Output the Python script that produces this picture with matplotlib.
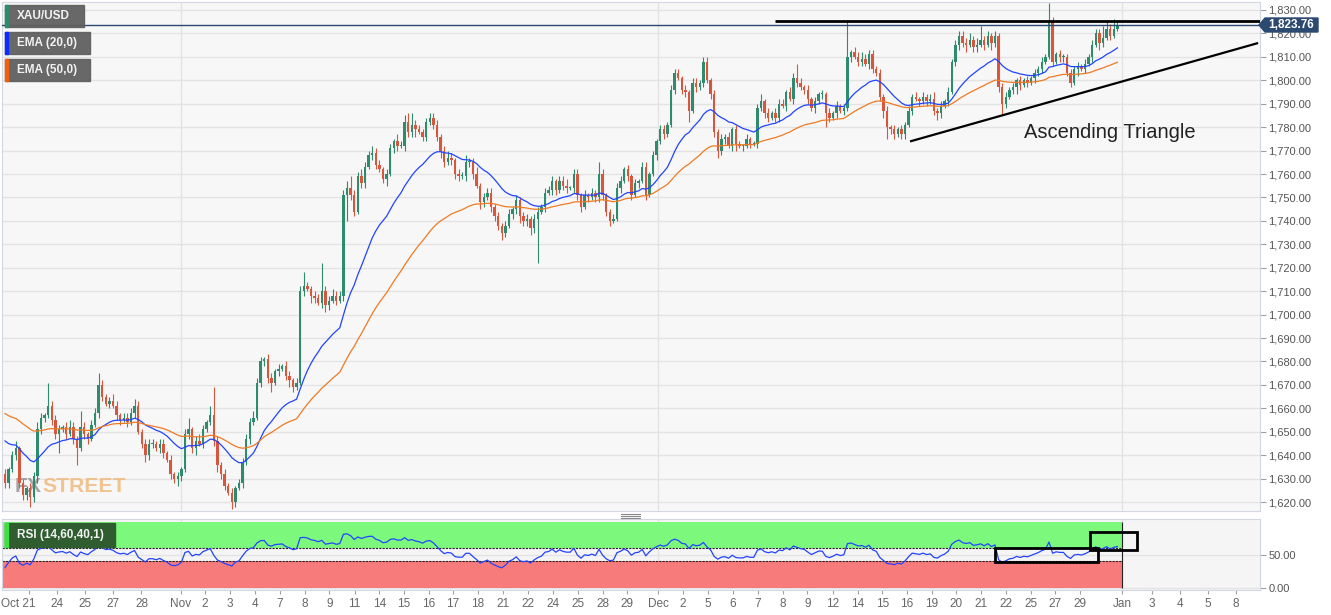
import numpy as np
import matplotlib
matplotlib.use('Agg')
import matplotlib.pyplot as plt
from matplotlib.patches import Rectangle, Polygon
from matplotlib.lines import Line2D
from matplotlib.transforms import ScaledTranslation

plt.rcParams['font.family'] = ['Liberation Sans', 'DejaVu Sans']

# XAU/USD 4h closes, Oct 21 -> Dec 30
closes = [
    1628, 1634, 1640, 1643, 1628, 1623, 1626, 1622, 1631, 1651,
    1656, 1657, 1661, 1655, 1649, 1651, 1652, 1649, 1652, 1647,
    1643, 1652, 1649, 1647, 1653, 1658, 1670, 1665, 1662, 1663,
    1661, 1657, 1655, 1656, 1654, 1658, 1661, 1650, 1645, 1640,
    1645, 1645, 1643, 1645, 1641, 1638, 1632, 1630, 1631, 1634,
    1649, 1651, 1643, 1646, 1645, 1651, 1654, 1657, 1646, 1636,
    1632, 1627, 1624, 1620, 1626, 1628, 1637, 1647, 1654, 1656,
    1671, 1680, 1681, 1673, 1671, 1676, 1677, 1678, 1674, 1672,
    1669, 1671, 1710, 1712, 1711, 1708, 1707, 1705, 1710, 1704,
    1706, 1708, 1706, 1708, 1751, 1754, 1751, 1744, 1759, 1756,
    1763, 1768, 1769, 1764, 1762, 1758, 1760, 1771, 1774, 1772,
    1772, 1782, 1778, 1781, 1779, 1778, 1776, 1782, 1784, 1781,
    1776, 1770, 1765, 1767, 1766, 1760, 1759, 1759, 1765, 1765,
    1760, 1755, 1748, 1750, 1752, 1746, 1742, 1738, 1735, 1738,
    1743, 1745, 1749, 1742, 1740, 1741, 1737, 1741, 1744, 1746,
    1752, 1753, 1757, 1753, 1757, 1755, 1754, 1754, 1760, 1751,
    1746, 1751, 1750, 1752, 1750, 1760, 1751, 1744, 1740, 1741,
    1754, 1757, 1762, 1759, 1751, 1756, 1757, 1763, 1751, 1760,
    1768, 1774, 1779, 1777, 1781, 1796, 1803, 1801, 1796, 1795,
    1787, 1799, 1797, 1799, 1808, 1800, 1794, 1778, 1770, 1775,
    1776, 1772, 1779, 1773, 1772, 1772, 1775, 1773, 1773, 1788,
    1791, 1786, 1784, 1786, 1784, 1790, 1789, 1795, 1792, 1801,
    1799, 1797, 1796, 1792, 1788, 1791, 1794, 1794, 1786, 1784,
    1786, 1789, 1787, 1788, 1810, 1812, 1810, 1808, 1809, 1807,
    1811, 1805, 1803, 1793, 1787, 1780, 1779, 1777, 1779, 1777,
    1781, 1787, 1793, 1792, 1791, 1793, 1791, 1792, 1787, 1786,
    1789, 1791, 1795, 1808, 1815, 1819, 1816, 1815, 1817, 1814,
    1815, 1817, 1815, 1819, 1816, 1819, 1797, 1790, 1793, 1796,
    1797, 1800, 1798, 1800, 1799, 1801, 1803, 1805, 1808, 1810,
    1825, 1808, 1811, 1810, 1810, 1803, 1799, 1805, 1806, 1805,
    1807, 1810, 1815, 1820, 1816, 1818, 1822, 1819, 1822, 1823.76,
]
up_wick = [
    2, 1, 2, 3, 1, 2, 1, 2, 2, 3,
    2, 1, 10, 2, 2, 2, 1, 2, 3, 2,
    1, 7, 2, 1, 2, 2, 5, 2, 1, 2,
    3, 2, 1, 2, 2, 2, 3, 2, 1, 2,
    2, 2, 1, 2, 2, 1, 2, 1, 2, 1,
    2, 5, 1, 2, 3, 2, 1, 4, 12, 2,
    1, 2, 1, 2, 1, 2, 2, 2, 2, 3,
    2, 2, 1, 2, 2, 1, 2, 1, 2, 2,
    1, 2, 2, 6, 2, 1, 2, 2, 12, 2,
    2, 3, 2, 2, 2, 3, 5, 2, 2, 3,
    2, 2, 3, 2, 2, 1, 2, 2, 1, 3,
    2, 3, 4, 5, 2, 2, 1, 2, 2, 2,
    2, 1, 2, 3, 2, 1, 2, 2, 3, 2,
    2, 3, 1, 2, 2, 2, 1, 2, 1, 2,
    2, 1, 2, 1, 2, 2, 1, 2, 2, 1,
    2, 2, 2, 1, 2, 2, 3, 1, 2, 2,
    1, 2, 1, 2, 1, 5, 2, 1, 1, 2,
    2, 2, 1, 2, 1, 2, 1, 2, 2, 1,
    2, 1, 2, 2, 1, 2, 2, 2, 1, 2,
    1, 2, 2, 1, 2, 2, 1, 2, 1, 2,
    1, 2, 1, 2, 1, 1, 2, 1, 1, 2,
    3, 1, 2, 1, 2, 2, 2, 1, 2, 2,
    6, 2, 1, 2, 1, 2, 1, 2, 1, 2,
    1, 2, 1, 2, 15, 1, 2, 2, 3, 2,
    2, 2, 1, 2, 1, 2, 1, 2, 1, 2,
    1, 2, 1, 2, 1, 2, 1, 2, 3, 1,
    2, 1, 2, 1, 2, 2, 2, 2, 3, 2,
    3, 6, 2, 2, 1, 2, 1, 2, 2, 1,
    2, 1, 2, 1, 2, 1, 2, 1, 2, 1,
    8, 2, 1, 2, 1, 1, 2, 1, 2, 1,
    2, 1, 2, 2, 2, 5, 3, 2, 4, 1,
]
dn_wick = [
    2, 2, 1, 2, 2, 2, 2, 4, 2, 3,
    2, 2, 1, 2, 2, 8, 1, 2, 1, 2,
    7, 1, 2, 2, 1, 1, 2, 2, 1, 2,
    1, 2, 2, 1, 2, 1, 2, 1, 2, 3,
    2, 2, 1, 2, 2, 1, 2, 2, 3, 2,
    1, 2, 2, 3, 1, 2, 1, 1, 2, 3,
    2, 2, 1, 3, 2, 1, 2, 1, 2, 1,
    1, 2, 2, 2, 4, 1, 2, 1, 2, 3,
    2, 1, 1, 2, 1, 3, 2, 1, 2, 3,
    2, 1, 2, 1, 2, 11, 2, 2, 1, 2,
    2, 1, 2, 2, 1, 2, 3, 1, 2, 2,
    1, 2, 2, 2, 3, 1, 2, 2, 1, 2,
    2, 3, 2, 1, 2, 2, 2, 1, 2, 2,
    2, 1, 3, 2, 1, 2, 2, 2, 3, 2,
    1, 2, 2, 3, 2, 2, 3, 2, 19, 1,
    2, 1, 2, 2, 1, 2, 2, 1, 2, 2,
    2, 1, 2, 1, 2, 2, 2, 2, 2, 1,
    1, 2, 1, 2, 2, 1, 2, 1, 2, 1,
    1, 2, 1, 2, 1, 1, 2, 1, 2, 2,
    5, 1, 2, 1, 2, 1, 2, 2, 3, 2,
    2, 1, 2, 3, 1, 2, 1, 2, 1, 2,
    1, 2, 2, 1, 2, 2, 1, 2, 1, 2,
    2, 1, 2, 2, 1, 2, 1, 2, 6, 2,
    1, 2, 1, 2, 1, 2, 1, 2, 2, 1,
    2, 2, 1, 2, 3, 5, 2, 2, 1, 2,
    2, 1, 2, 1, 2, 1, 2, 1, 2, 3,
    2, 1, 2, 1, 2, 2, 2, 3, 1, 2,
    2, 1, 2, 1, 3, 2, 2, 5, 2, 1,
    2, 3, 2, 1, 2, 1, 2, 1, 2, 1,
    1, 2, 1, 2, 2, 1, 2, 1, 3, 1,
    2, 1, 2, 1, 3, 2, 1, 2, 1, 1,
]
first_open = 1632

# indicator starting states (values before the first visible candle)
ema20_start = 1648
ema50_start = 1659
rsi_start_gain = 1.2
rsi_start_loss = 2.4

last_price = 1823.76
resistance = 1825.5
resistance_from = 213.9
support_line = ([251.4, 348.1], [1773.9, 1815.9])

date_labels = ['Oct 21', '24', '25', '27', '28', 'Nov', '2', '3', '4', '7', '8', '9', '11',
               '14', '15', '16', '17', '18', '21', '22', '24', '25', '28', '29', 'Dec', '2',
               '5', '6', '7', '8', '9', '12', '14', '15', '16', '19', '20', '21', '22', '25',
               '27', '29', 'Jan', '3', '4', '5', '8']
date_pos = [6.7, 14.4, 22.2, 30.0, 37.9, 48.8, 55.6, 62.5, 69.4, 76.3, 83.2, 90.1, 97.1,
            104.0, 110.8, 117.7, 124.4, 131.4, 138.3, 145.3, 152.1, 159.1, 166.0, 172.8, 181.4, 188.3,
            195.3, 202.2, 209.2, 216.0, 222.9, 230.0, 236.9, 243.7, 250.6, 257.5, 264.2, 271.1, 278.1, 285.0,
            291.7, 298.6, 310.4, 318.5, 326.4, 334.2, 342.0]
month_pos = [48.8, 181.4, 310.4]
price_ticks = list(range(1620, 1831, 10))

rsi_box_a = (275.0, 303.6, 38.6, 60.8)
rsi_box_b = (301.4, 314.5, 58.0, 84.0)

GREEN = '#2f8b6d'
RED = '#d7563e'
BLUE = '#2244ff'
ORANGE = '#f07a22'
NAVY = '#2c4a70'

W, H = 1331, 615


def fx(px):
    return px / W


def fy(py):
    return 1 - py / H


def ema(vals, n, start):
    a = 2.0 / (n + 1)
    e = start
    out = []
    for v in vals:
        e = e + a * (v - e)
        out.append(e)
    return np.array(out)


def rsi(vals, n, g, l, prev):
    out = []
    for v in vals:
        d = v - prev
        prev = v
        g = (g * (n - 1) + max(d, 0)) / n
        l = (l * (n - 1) + max(-d, 0)) / n
        out.append(100 - 100 / (1 + g / l) if l > 0 else 100)
    return np.array(out)


c = np.array(closes, float)
n = len(c)
idx = np.arange(n)
o = np.concatenate([[first_open], c[:-1]])
hi = np.maximum(o, c) + np.array(up_wick)
lo = np.minimum(o, c) - np.array(dn_wick)
e20 = ema(c, 20, ema20_start)
e50 = ema(c, 50, ema50_start)
r = rsi(c, 14, rsi_start_gain, rsi_start_loss, first_open)

fig = plt.figure(figsize=(W / 100, H / 100), dpi=100)
fig.patch.set_facecolor('white')
ax = fig.add_axes([fx(2), fy(511), fx(1260) - fx(2), fy(2) - fy(511)])
ax2 = fig.add_axes([fx(2), fy(590), fx(1260) - fx(2), fy(519) - fy(590)])
x0, x1 = (2 - 5) / 3.6, (1260 - 5) / 3.6

# ---- price panel
ax.set_facecolor('#f7f7f7')
ax.set_xlim(x0, x1)
ax.set_ylim(1616.2, 1833.4)
ax.set_axisbelow(True)
ax.yaxis.tick_right()
ax.set_yticks(price_ticks)
ax.set_yticklabels([f'{v:,.2f}' for v in price_ticks])
ax.tick_params(axis='y', length=4, color='#a0a0a0', labelsize=8, labelcolor='#555555', pad=2)
ax.set_xticks([])
ax.grid(axis='y', color='#e3e3e3', lw=1)
for m in month_pos:
    ax.axvline(m, color='#e3e3e3', lw=1, zorder=0)
for s in ax.spines.values():
    s.set_color('#d3d7e4')

# watermark under the candles, squeezed to the width it has in the source
wm_font = dict(fontweight='bold', family=['DejaVu Sans Condensed', 'Liberation Sans Narrow', 'Liberation Sans'],
               fontstretch='condensed', zorder=1)
t_fx = ax.text(fx(15), fy(492), 'FX', transform=fig.transFigure, fontsize=30, color='#8a8a8a', alpha=0.75, **wm_font)
t_st = ax.text(fx(42), fy(492), 'STREET', transform=fig.transFigure, fontsize=30, color='#f0b676', alpha=0.8, **wm_font)
rend = fig.canvas.get_renderer()
w_fx = t_fx.get_window_extent(rend).width
w_st = t_st.get_window_extent(rend).width
k = 110.0 / (w_fx + w_st)
t_fx.set_fontsize(30 * k)
t_st.set_fontsize(30 * k)
t_st.set_x(fx(15 + w_fx * k + 1))

col = np.where(c >= o, GREEN, RED)
ax.vlines(idx, lo, hi, colors=col, lw=0.8, zorder=2)
ax.bar(idx, np.maximum(np.abs(c - o), 0.4), bottom=np.minimum(o, c), width=0.72,
       color=col, linewidth=0, zorder=3)
ax.plot(idx, e20, color=BLUE, lw=0.9, zorder=4)
ax.plot(idx, e50, color=ORANGE, lw=0.9, zorder=4)

ax.axhline(last_price, color=NAVY, lw=1, zorder=5)
ax.hlines(resistance, resistance_from, x1, color='black', lw=2, zorder=6)
ax.plot(support_line[0], support_line[1], color='black', lw=1.6, zorder=6,
        solid_capstyle='butt')
fig.text(fx(1024), fy(137.5), 'Ascending Triangle', fontsize=14.5, color='#222222', va='baseline')

# price tag at the right
fig.add_artist(Polygon([(fx(1259), fy(25)), (fx(1265), fy(18)), (fx(1318), fy(18)),
                        (fx(1318), fy(32)), (fx(1265), fy(32))], closed=True,
                       transform=fig.transFigure, color=NAVY, zorder=10))
fig.text(fx(1291), fy(25), f'{last_price:,.2f}', color='white', fontsize=8.5, fontweight='bold',
         ha='center', va='center', zorder=11)

# legend tags
for y0, name, strip in [(5, 'XAU/USD', GREEN), (32, 'EMA (20,0)', '#0a2cff'), (59, 'EMA (50,0)', '#f06010')]:
    wbox = 79 if name == 'XAU/USD' else 85
    fig.add_artist(Rectangle((fx(5), fy(y0 + 22)), wbox / W, 22 / H, transform=fig.transFigure,
                             color='#606060', alpha=0.95, zorder=10))
    fig.add_artist(Rectangle((fx(5), fy(y0 + 22)), 3 / W, 22 / H, transform=fig.transFigure,
                             color=strip, zorder=11))
    fig.text(fx(17), fy(y0 + 11), name, color='#f2f2f2', fontsize=8.5, fontweight='bold',
             va='center', zorder=12)

# ---- RSI panel
ax2.set_facecolor('#f5f5f5')
ax2.set_xlim(x0, x1)
ax2.set_ylim(-3, 104)
ax2.set_axisbelow(True)
ax2.add_patch(Rectangle((x0, 60), month_pos[-1] - x0, 40, color='#7cf97c', lw=0, zorder=1))
ax2.add_patch(Rectangle((x0, 0), month_pos[-1] - x0, 40, color='#f87b7b', lw=0, zorder=1))
ax2.hlines([60, 40], x0, month_pos[-1], colors='#222222', linestyles=(0, (2, 1)), lw=0.8, zorder=2)
ax2.vlines(month_pos[-1], 0, 100, colors='#222222', lw=0.8, zorder=2)
ax2.plot(idx, r, color=BLUE, lw=0.9, zorder=3)
for bx0, bx1, by0, by1 in (rsi_box_a, rsi_box_b):
    ax2.add_patch(Rectangle((bx0, by0), bx1 - bx0, by1 - by0, fill=False, ec='black', lw=2, zorder=4))
ax2.yaxis.tick_right()
ax2.set_yticks([0, 50])
ax2.set_yticklabels(['0.00', '50.00'])
ax2.tick_params(axis='y', length=4, color='#a0a0a0', labelsize=8, labelcolor='#555555', pad=2)
ax2.set_xticks(date_pos)
ax2.set_xticklabels(date_labels)
ax2.tick_params(axis='x', length=3, color='#a0a0a0', labelsize=8.5, labelcolor='#666666', pad=3)
first_lbl = ax2.get_xticklabels()[0]
first_lbl.set_transform(first_lbl.get_transform() + ScaledTranslation(-11 / 100, 0, fig.dpi_scale_trans))
ax2.grid(axis='y', color='#e3e3e3', lw=1)
for m in month_pos:
    ax2.axvline(m, color='#e3e3e3', lw=1, zorder=0)
for s in ax2.spines.values():
    s.set_color('#d3d7e4')

fig.add_artist(Rectangle((fx(5), fy(547)), 110 / W, 24 / H, transform=fig.transFigure,
                         color='#2f5d30', zorder=10))
fig.add_artist(Rectangle((fx(5), fy(547)), 3 / W, 24 / H, transform=fig.transFigure,
                         color='#3fe03f', zorder=11))
fig.text(fx(17), fy(535), 'RSI (14,60,40,1)', color='#f2f2f2', fontsize=8.5, fontweight='bold',
         va='center', zorder=12)

# splitter handle between the panels
for yy in (513.5, 515.5, 517.5):
    fig.add_artist(Line2D([fx(621), fx(640)], [fy(yy), fy(yy)], color='#8a8a8a', lw=0.8,
                          transform=fig.transFigure))

fig.savefig('out.png', dpi=100, facecolor='white')
